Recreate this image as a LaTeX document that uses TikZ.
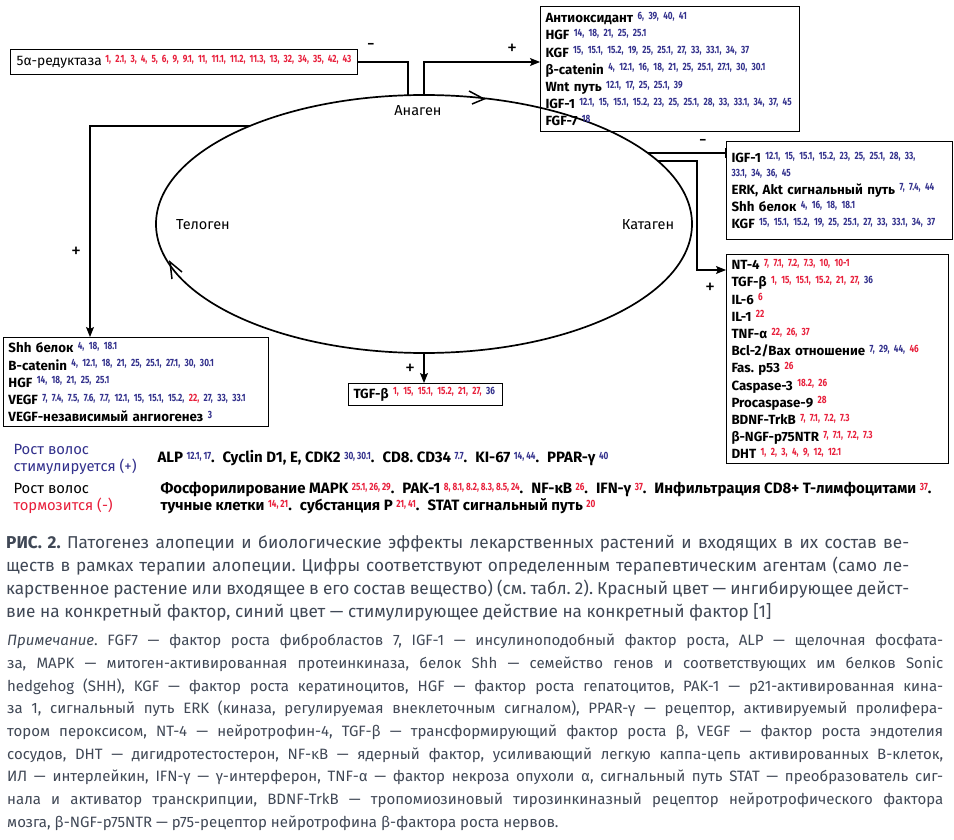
\documentclass[tikz,border=0pt]{standalone}
\usepackage{fontspec}
\setmainfont{Fira Sans}
\newfontfamily\numfont{Fira Sans}[FakeStretch=0.78]
\usetikzlibrary{arrows.meta,calc}
\frenchspacing

\definecolor{numred}{RGB}{232,30,58}
\definecolor{numblue}{RGB}{50,48,140}
\definecolor{capgray}{RGB}{64,72,86}

% superscript lists of agents
\newcommand{\nums}[1]{\raisebox{3.4pt}{\numfont\bfseries\fontsize{10.5}{10.5}\selectfont #1}}
\newcommand{\rn}[1]{\nums{\color{numred}#1}}
\newcommand{\bn}[1]{\nums{\color{numblue}#1}}
\newcommand{\gap}{\hspace{8pt}}

\begin{document}
\begin{tikzpicture}[x=1pt,y=-1pt,
    box/.style={draw, line width=1pt, align=left, anchor=north west,
      inner xsep=5pt, inner ysep=2pt,
      font=\bfseries\fontsize{13.3}{17.2}\selectfont},
    link/.style={line width=1.1pt},
    tip/.style={-{Stealth[length=10pt,width=8pt,inset=2pt]}},
    sign/.style={font=\fontsize{20}{20}\selectfont},
    phase/.style={font=\fontsize{14.5}{14.5}\selectfont}]

      \useasboundingbox[fill=white] (0,0) rectangle (954,840);

      % hair cycle
      \coordinate (cyc) at (424,224);
      \draw[line width=1.7pt] (cyc) ellipse [x radius=268, y radius=129];
      \draw[line width=1.5pt] (469,91) -- (484,99) -- (472,104);
      \draw[line width=1.5pt] (172,279) -- (170,262) -- (182,272);

      \coordinate (e5a) at (408,95.2);
      \coordinate (eana) at (424,95);
      \coordinate (ekat1) at (648,153);
      \coordinate (ekat2) at (658,161);
      \coordinate (etel) at (250,126);
      \coordinate (ebot) at (424,353);

      \node[phase] (ana) at (418,111) {Анаген};
      \node[phase] (kat) at (648,225) {Катаген};
      \node[phase] (tel) at (203,225) {Телоген};

      % boxes
      \node[box, minimum width=347, minimum height=25, inner xsep=2pt,
            font=\fontsize{13.8}{17.2}\selectfont]
            (ared) at (10,49)
            {5α-редуктаза \nums{\spaceskip=4.1pt\xspaceskip=4.1pt\color{numred}1, 2.1, 3, 4, 5, 6, 9, 9.1, 11, 11.1, 11.2, 11.3, 13, 32, 34, 35, 42, 43}};

      \node[box, text width=249, minimum height=125] (topbox) at (540,6)
            {Антиоксидант \bn{6, 39, 40, 41}\\
             HGF \bn{14, 18, 21, 25, 25.1}\\
             KGF \bn{15, 15.1, 15.2, 19, 25, 25.1, 27, 33, 33.1, 34, 37}\\
             β-catenin \bn{4, 12.1, 16, 18, 21, 25, 25.1, 27.1, 30, 30.1}\\
             Wnt путь \bn{12.1, 17, 25, 25.1, 39}\\
             IGF-1 \bn{12.1, 15, 15.1, 15.2, 23, 25, 25.1, 28, 33, 33.1, 34, 37, 45}\\
             FGF-7 \bn{18}};

      \node[box, text width=216, minimum height=98] (midbox) at (726,141)
            {IGF-1 \bn{12.1, 15, 15.1, 15.2, 23, 25, 25.1, 28, 33,}\\[-4pt]
             {\numfont\bfseries\fontsize{10.5}{10.5}\selectfont\color{numblue}33.1, 34, 36, 45}\\[1pt]
             ERK, Akt сигнальный путь \bn{7, 7.4, 44}\\
             Shh белок \bn{4, 16, 18, 18.1}\\
             KGF \bn{15, 15.1, 15.2, 19, 25, 25.1, 27, 33, 33.1, 34, 37}};

      \node[box, text width=212, minimum height=209] (lowbox) at (726,254)
            {NT-4 \rn{7, 7.1, 7.2, 7.3, 10, 10-1}\\
             TGF-β \nums{\color{numred}1, 15, 15.1, 15.2, 21, 27, \color{numblue}36}\\
             IL-6 \rn{6}\\
             IL-1 \rn{22}\\
             TNF-α \rn{22, 26, 37}\\
             Bcl-2/Bax отношение \nums{\color{numblue}7, 29, 44, \color{numred}46}\\
             Fas. p53 \rn{26}\\
             Caspase-3 \rn{18.2, 26}\\
             Procaspase-9 \rn{28}\\
             BDNF-TrkB \rn{7, 7.1, 7.2, 7.3}\\
             β-NGF-p75NTR \rn{7, 7.1, 7.2, 7.3}\\
             DHT \rn{1, 2, 3, 4, 9, 12, 12.1}};

      \node[box, text width=255, minimum height=89] (leftbox) at (3,337)
            {Shh белок \bn{4, 18, 18.1}\\
             B-catenin \bn{4, 12.1, 18, 21, 25, 25.1, 27.1, 30, 30.1}\\
             HGF \bn{14, 18, 21, 25, 25.1}\\
             VEGF \nums{\color{numblue}7, 7.4, 7.5, 7.6, 7.7, 12.1, 15, 15.1, 15.2, \color{numred}22, \color{numblue}27, 33, 33.1}\\
             VEGF-независимый ангиогенез \bn{3}};

      \node[box, text width=144, minimum height=22] (tgfbox) at (348,383)
            {TGF-β \nums{\color{numred}1, 15, 15.1, 15.2, 21, 27, \color{numblue}36}};

      % connectors
      \draw[link] (ared.east) -| (e5a);
      \draw[link,tip] (eana) |- (topbox.west |- ared.east);
      \draw[link,-{Bar[width=10pt]}] (ekat1) -- (midbox.west |- ekat1);
      \draw[link,tip] (ekat2) -- ++(39,0) |- ($(lowbox.north west)+(0,16)$);
      \draw[link,tip] (etel) -| ($(leftbox.north west)+(87,0)$);
      \draw[link,tip] (ebot) -- (tgfbox.north -| ebot);

      \node[sign] (m1) at (371,47) {-};
      \node[sign] (p1) at (512,49) {+};
      \node[sign] (m2) at (703,143) {-};
      \node[sign] (p2) at (710,288) {+};
      \node[sign] (p3) at (76,252) {+};
      \node[sign] (p4) at (410,369) {+};

      % legend rows
      \node[anchor=west, align=left, color=numblue,
            font=\fontsize{14.8}{17}\selectfont] (stim) at (10,459)
            {Рост волос\\стимулируется (+)};
      \node[anchor=west, font=\bfseries\fontsize{15}{17}\selectfont] (stimlist) at (154,458)
            {ALP \bn{12.1, 17}.\gap Cyclin D1, E, CDK2 \bn{30, 30.1}.\gap CD8. CD34 \bn{7.7}.\gap
             KI-67 \bn{14, 44}.\gap PPAR-γ \bn{40}};

      \node[anchor=west, align=left,
            font=\fontsize{14.8}{17}\selectfont] (inhib) at (10,498)
            {Рост волос\\\textcolor{numred}{тормозится (-)}};
      \node[anchor=west, align=left, font=\bfseries\fontsize{15}{17}\selectfont] (inhiblist) at (157,498)
            {Фосфорилирование MAPK \rn{25.1, 26, 29}.\gap PAK-1 \rn{8, 8.1, 8.2, 8.3, 8.5, 24}.\gap
             NF-κB \rn{26}.\gap IFN-γ \rn{37}.\gap Инфильтрация CD8+ Т-лимфоцитами \rn{37}.\\
             тучные клетки \rn{14, 21}.\gap субстанция P \rn{21, 41}.\gap STAT сигнальный путь \rn{20}};

      % caption
      \node[anchor=north west, text width=903, align=justify, color=capgray,
            font=\fontsize{17.2}{23}\selectfont, inner sep=0pt] (cap) at (6,535)
            {\textbf{РИС. 2.} Патогенез алопеции и биологические эффекты лекарственных растений и входящих в их состав ве-\linebreak
             ществ в рамках терапии алопеции. Цифры соответствуют определенным терапевтическим агентам (само ле-\linebreak
             карственное растение или входящее в его состав вещество) (см. табл. 2). Красный цвет — ингибирующее дейст-\linebreak
             вие на конкретный фактор, синий цвет — стимулирующее действие на конкретный фактор [1]};

      \node[anchor=north west, text width=936, align=justify, color=capgray,
            font=\fontsize{15}{22.7}\selectfont, inner sep=0pt] (note) at (7,634)
            {\textit{Примечание}. FGF7 — фактор роста фибробластов 7, IGF-1 — инсулиноподобный фактор роста, ALP — щелочная фосфата-\linebreak
             за, MAPK — митоген-активированная протеинкиназа, белок Shh — семейство генов и соответствующих им белков Sonic\linebreak
             hedgehog (SHH), KGF — фактор роста кератиноцитов, HGF — фактор роста гепатоцитов, PAK-1 — p21-активированная кина-\linebreak
             за 1, сигнальный путь ERK (киназа, регулируемая внеклеточным сигналом), PPAR-γ — рецептор, активируемый пролифера-\linebreak
             тором пероксисом, NT-4 — нейротрофин-4, TGF-β — трансформирующий фактор роста β, VEGF — фактор роста эндотелия\linebreak
             сосудов, DHT — дигидротестостерон, NF-κB — ядерный фактор, усиливающий легкую каппа-цепь активированных B-клеток,\linebreak
             ИЛ — интерлейкин, IFN-γ — γ-интерферон, TNF-α — фактор некроза опухоли α, сигнальный путь STAT — преобразователь сиг-\linebreak
             нала и активатор транскрипции, BDNF-TrkB — тропомиозиновый тирозинкиназный рецептор нейротрофического фактора\linebreak
             мозга, β-NGF-p75NTR — p75-рецептор нейротрофина β-фактора роста нервов.};
\end{tikzpicture}
\end{document}
